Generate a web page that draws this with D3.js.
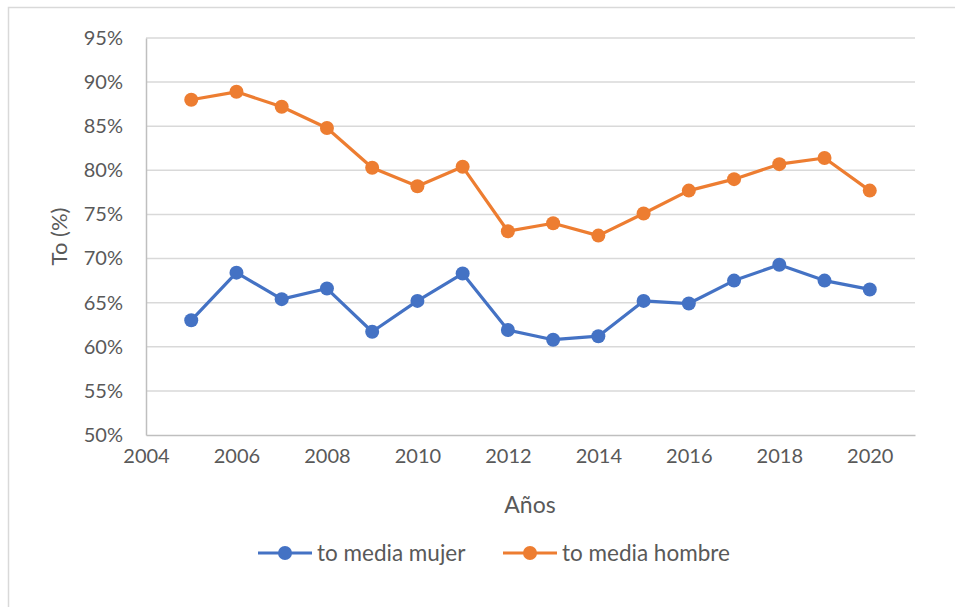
<!DOCTYPE html>
<html>
<head>
<meta charset="utf-8">
<script src="https://cdn.jsdelivr.net/npm/d3@7"></script>
<style>
  html, body { margin: 0; padding: 0; background: #ffffff; }
  svg { display: block; }
  text { font-family: Lato, "Open Sans", sans-serif; fill: #595959; }
</style>
</head>
<body>
<svg id="chart" width="955" height="607"></svg>
<script>
// Years and rates (%) per series
const years = [2005, 2006, 2007, 2008, 2009, 2010, 2011, 2012, 2013, 2014, 2015, 2016, 2017, 2018, 2019, 2020];
const mujer = [63.0, 68.4, 65.4, 66.6, 61.7, 65.2, 68.3, 61.9, 60.8, 61.2, 65.2, 64.9, 67.5, 69.3, 67.5, 66.5];
const hombre = [88.0, 88.9, 87.2, 84.8, 80.3, 78.2, 80.4, 73.1, 74.0, 72.6, 75.1, 77.7, 79.0, 80.7, 81.4, 77.7];
const xTicks = [2004, 2006, 2008, 2010, 2012, 2014, 2016, 2018, 2020];
const yTicks = [50, 55, 60, 65, 70, 75, 80, 85, 90, 95];
const seriesNames = ["to media mujer", "to media hombre"];
const seriesColors = ["#4472c4", "#ed7d31"];

const svg = d3.select("#chart");

// Outer chart frame
svg.append("rect")
  .attr("x", 8.5).attr("y", 7.5)
  .attr("width", 1000).attr("height", 1000)
  .attr("fill", "none").attr("stroke", "#d9d9d9").attr("stroke-width", 1.5);

const plot = { left: 146, right: 915, top: 38, bottom: 435 };

const x = d3.scaleLinear().domain([2004, 2021]).range([plot.left, plot.right]);
const y = d3.scaleLinear().domain([50, 95]).range([plot.bottom, plot.top]);

// Horizontal gridlines
svg.append("g")
  .selectAll("line")
  .data(yTicks.slice(1))
  .join("line")
  .attr("x1", plot.left).attr("x2", plot.right)
  .attr("y1", d => y(d)).attr("y2", d => y(d))
  .attr("stroke", "#d9d9d9").attr("stroke-width", 1.5);

// Y axis
const yAxis = svg.append("g")
  .attr("transform", `translate(${plot.left},0)`)
  .call(d3.axisLeft(y).tickValues(yTicks).tickSize(0).tickPadding(23).tickFormat(d => d + "%"));
yAxis.select(".domain").attr("stroke", "#bfbfbf").attr("stroke-width", 1.5);
yAxis.selectAll("text").style("font-size", "20px").attr("fill", "#595959");

// X axis
const xAxis = svg.append("g")
  .attr("transform", `translate(0,${plot.bottom})`)
  .call(d3.axisBottom(x).tickValues(xTicks).tickSize(0).tickPadding(14).tickFormat(d3.format("d")));
xAxis.select(".domain").attr("stroke", "#bfbfbf").attr("stroke-width", 1.5);
xAxis.selectAll("text").style("font-size", "20px").attr("fill", "#595959");

// Axis titles
svg.append("text")
  .attr("transform", `translate(67,${(plot.top + plot.bottom) / 2}) rotate(-90)`)
  .attr("text-anchor", "middle")
  .style("font-size", "22px")
  .text("To (%)");

svg.append("text")
  .attr("x", 530).attr("y", 513)
  .attr("text-anchor", "middle")
  .style("font-size", "23px")
  .text("Años");

// Series lines and markers
const line = d3.line().x((d, i) => x(years[i])).y(d => y(d));
[mujer, hombre].forEach((vals, k) => {
  svg.append("path")
    .datum(vals)
    .attr("d", line)
    .attr("fill", "none")
    .attr("stroke", seriesColors[k])
    .attr("stroke-width", 3.2)
    .attr("stroke-linejoin", "round");
  svg.append("g")
    .selectAll("circle")
    .data(vals)
    .join("circle")
    .attr("cx", (d, i) => x(years[i]))
    .attr("cy", d => y(d))
    .attr("r", 7)
    .attr("fill", seriesColors[k]);
});

// Legend
const legendX = [258, 503];
seriesNames.forEach((name, k) => {
  const g = svg.append("g").attr("transform", `translate(${legendX[k]},553)`);
  g.append("line").attr("x1", 0).attr("x2", 54).attr("y1", 0).attr("y2", 0)
    .attr("stroke", seriesColors[k]).attr("stroke-width", 3.2);
  g.append("circle").attr("cx", 27).attr("cy", 0).attr("r", 7).attr("fill", seriesColors[k]);
  g.append("text").attr("x", 59).attr("y", 0).attr("dy", "0.35em")
    .style("font-size", "22.5px").text(name);
});
</script>
</body>
</html>
